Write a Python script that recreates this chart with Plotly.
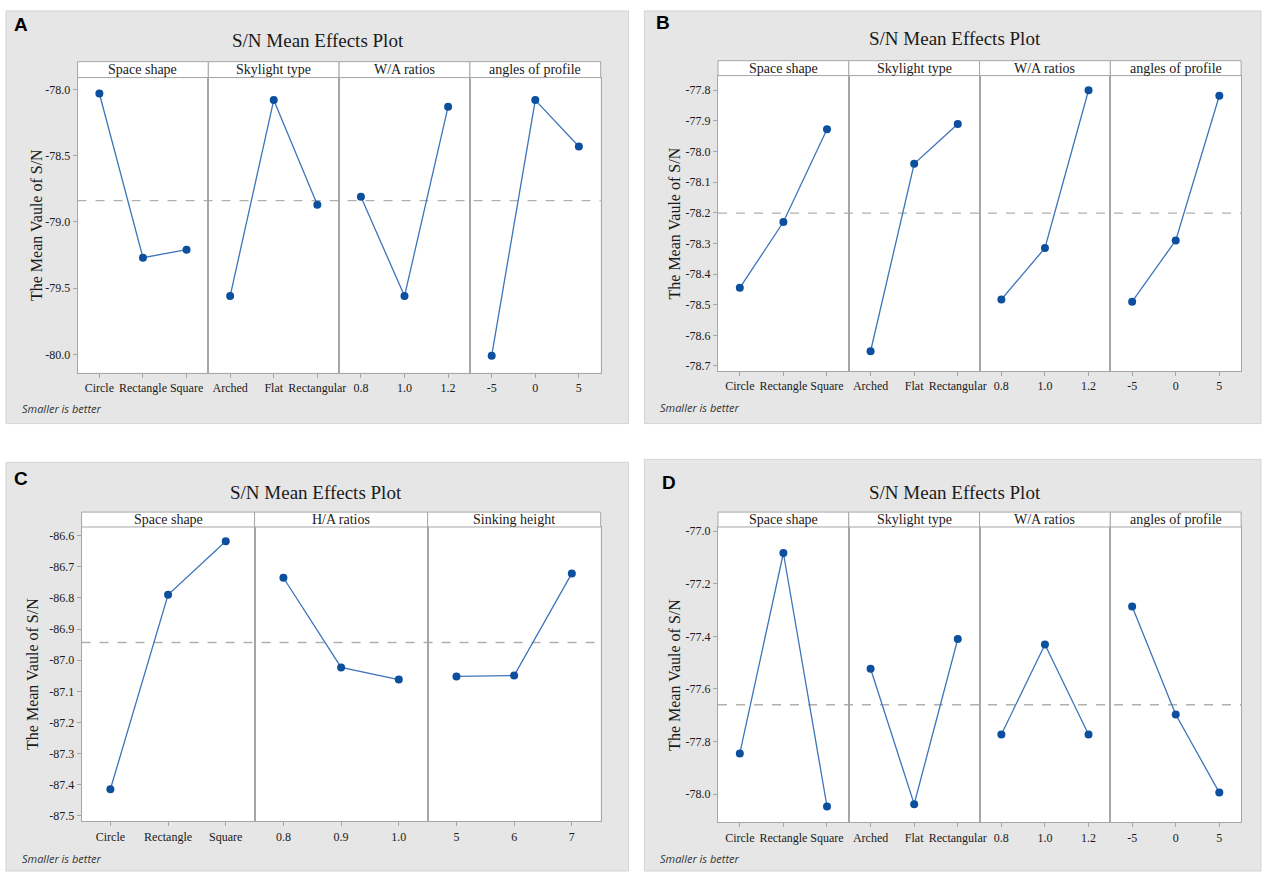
import plotly.graph_objects as go

W, H = 1268, 873

# ---------------- data ----------------
space_shape = ["Circle", "Rectangle", "Square"]
skylight_type = ["Arched", "Flat", "Rectangular"]
wa_ratios = ["0.8", "1.0", "1.2"]
angles_profile = ["-5", "0", "5"]
ha_ratios = ["0.8", "0.9", "1.0"]
sinking_height = ["5", "6", "7"]

factors_4 = ["Space shape", "Skylight type", "W/A ratios", "angles of profile"]
factors_3 = ["Space shape", "H/A ratios", "Sinking height"]

a_values = [[-78.03, -79.27, -79.21], [-79.56, -78.08, -78.87],
            [-78.81, -79.56, -78.13], [-80.01, -78.08, -78.43]]
a_mean = -78.84
a_ticks = [-78.0, -78.5, -79.0, -79.5, -80.0]
a_ticktext = ["-78.0", "-78.5", "-79.0", "-79.5", "-80.0"]

b_values = [[-78.445, -78.23, -77.927], [-78.652, -78.04, -77.91],
            [-78.483, -78.315, -77.80], [-78.49, -78.29, -77.818]]
b_mean = -78.201
b_ticks = [-77.8, -77.9, -78.0, -78.1, -78.2, -78.3, -78.4, -78.5, -78.6, -78.7]
b_ticktext = ["-77.8", "-77.9", "-78.0", "-78.1", "-78.2", "-78.3", "-78.4", "-78.5", "-78.6", "-78.7"]

c_values = [[-87.414, -86.79, -86.618], [-86.735, -87.023, -87.062],
            [-87.052, -87.049, -86.721]]
c_mean = -86.943
c_ticks = [-86.6, -86.7, -86.8, -86.9, -87.0, -87.1, -87.2, -87.3, -87.4, -87.5]
c_ticktext = ["-86.6", "-86.7", "-86.8", "-86.9", "-87.0", "-87.1", "-87.2", "-87.3", "-87.4", "-87.5"]

d_values = [[-77.845, -77.083, -78.047], [-77.523, -78.038, -77.41],
            [-77.773, -77.431, -77.773], [-77.286, -77.697, -77.994]]
d_mean = -77.66
d_ticks = [-77.0, -77.2, -77.4, -77.6, -77.8, -78.0]
d_ticktext = ["-77.0", "-77.2", "-77.4", "-77.6", "-77.8", "-78.0"]

panels = [
    dict(letter="A", factors=factors_4,
         cats=[space_shape, skylight_type, wa_ratios, angles_profile],
         values=a_values, mean=a_mean, ticks=a_ticks, ticktext=a_ticktext,
         yrange=[-80.14, -77.91],
         box=(6, 8, 632, 423), letter_xy=(12, 22), title_xy=(320, 38),
         plot=(78, 604), strip_top=59, plot_top=75, plot_bot=372,
         ytitle_x=36, smaller_xy=(20, 408)),
    dict(letter="B", factors=factors_4,
         cats=[space_shape, skylight_type, wa_ratios, angles_profile],
         values=b_values, mean=b_mean, ticks=b_ticks, ticktext=b_ticktext,
         yrange=[-78.716, -77.752],
         box=(648, 8, 1268, 423), letter_xy=(658, 20), title_xy=(960, 36),
         plot=(722, 1248), strip_top=58, plot_top=73, plot_bot=370,
         ytitle_x=678, smaller_xy=(662, 407)),
    dict(letter="C", factors=factors_3,
         cats=[space_shape, ha_ratios, sinking_height],
         values=c_values, mean=c_mean, ticks=c_ticks, ticktext=c_ticktext,
         yrange=[-87.517, -86.572],
         box=(6, 462, 632, 873), letter_xy=(12, 478), title_xy=(318, 492),
         plot=(82, 604), strip_top=512, plot_top=527, plot_bot=823,
         ytitle_x=32, smaller_xy=(20, 860)),
    dict(letter="D", factors=factors_4,
         cats=[space_shape, skylight_type, wa_ratios, angles_profile],
         values=d_values, mean=d_mean, ticks=d_ticks, ticktext=d_ticktext,
         yrange=[-78.107, -76.984],
         box=(648, 459, 1268, 873), letter_xy=(664, 482), title_xy=(960, 492),
         plot=(722, 1248), strip_top=512, plot_top=527, plot_bot=824,
         ytitle_x=678, smaller_xy=(662, 860)),
]

def fx(x):
    return x / W

def fy(y):
    return 1 - y / H

SERIF = "Liberation Serif"
AXIS_GRAY = "#a6a6a6"
LINE_BLUE = "#3d74ba"
MARK_BLUE = "#0b4f9e"
TEXT = "#1a1a1a"

fig = go.Figure()
layout = dict(
    width=W, height=H, margin=dict(l=0, r=0, t=0, b=0),
    paper_bgcolor="white", plot_bgcolor="white", showlegend=False,
    shapes=[], annotations=[],
)

ax_i = 0
for p in panels:
    x0b, y0b, x1b, y1b = p["box"]
    px0, px1 = p["plot"]
    layout["shapes"].append(dict(type="rect", xref="paper", yref="paper",
                                 x0=fx(x0b), x1=fx(x1b), y0=fy(y1b), y1=fy(y0b),
                                 fillcolor="#e6e6e6", line=dict(color="#d4d4d4", width=1),
                                 layer="below"))
    # white plot area
    layout["shapes"].append(dict(type="rect", xref="paper", yref="paper",
                                 x0=fx(px0), x1=fx(px1), y0=fy(p["plot_bot"]), y1=fy(p["plot_top"]),
                                 fillcolor="white", line=dict(width=0), layer="below"))
    # letter and title
    layout["annotations"].append(dict(text="<b>%s</b>" % p["letter"], xref="paper", yref="paper",
                                      x=fx(p["letter_xy"][0]), y=fy(p["letter_xy"][1]),
                                      xanchor="left", yanchor="middle", showarrow=False,
                                      font=dict(family="Liberation Sans", size=19, color="black")))
    layout["annotations"].append(dict(text="S/N Mean Effects Plot", xref="paper", yref="paper",
                                      x=fx(p["title_xy"][0]), y=fy(p["title_xy"][1]),
                                      xanchor="center", yanchor="middle", showarrow=False,
                                      font=dict(family=SERIF, size=19, color=TEXT)))
    layout["annotations"].append(dict(text="The Mean Vaule of S/N", xref="paper", yref="paper",
                                      x=fx(p["ytitle_x"]), y=fy((p["plot_top"] + p["plot_bot"]) / 2),
                                      xanchor="center", yanchor="middle", showarrow=False, textangle=-90,
                                      font=dict(family=SERIF, size=16, color=TEXT)))
    layout["annotations"].append(dict(text="<i>Smaller is better</i>", xref="paper", yref="paper",
                                      x=fx(p["smaller_xy"][0]), y=fy(p["smaller_xy"][1]),
                                      xanchor="left", yanchor="middle", showarrow=False,
                                      font=dict(family="Open Sans", size=11, color="#333333")))

    n = len(p["factors"])
    fw = (px1 - px0) / n
    first_y = None
    for k in range(n):
        ax_i += 1
        xname = "xaxis" if ax_i == 1 else "xaxis%d" % ax_i
        yname = "yaxis" if ax_i == 1 else "yaxis%d" % ax_i
        xref = "x" if ax_i == 1 else "x%d" % ax_i
        yref = "y" if ax_i == 1 else "y%d" % ax_i
        if first_y is None:
            first_y = yref
        xa0 = px0 + k * fw
        xa1 = px0 + (k + 1) * fw
        layout[xname] = dict(domain=[fx(xa0), fx(xa1)], anchor=yref,
                             type="category", categoryorder="array", categoryarray=p["cats"][k],
                             range=[-0.5, 2.5], showline=True, linecolor=AXIS_GRAY, linewidth=1,
                             mirror=True, ticks="outside", ticklen=4, tickcolor=AXIS_GRAY,
                             showgrid=False, zeroline=False, tickangle=0,
                             tickfont=dict(family=SERIF, size=12, color=TEXT))
        ydict = dict(domain=[fy(p["plot_bot"]), fy(p["plot_top"])], anchor=xref,
                     range=p["yrange"], showline=True, linecolor=AXIS_GRAY, linewidth=1,
                     mirror=True, showgrid=False, zeroline=False,
                     tickmode="array", tickvals=p["ticks"], ticktext=p["ticktext"],
                     tickfont=dict(family=SERIF, size=12, color=TEXT))
        if k == 0:
            ydict.update(ticks="outside", ticklen=4, tickcolor=AXIS_GRAY, showticklabels=True)
        else:
            ydict.update(ticks="", showticklabels=False, matches=first_y)
        layout[yname] = ydict

        fig.add_trace(go.Scatter(x=p["cats"][k], y=p["values"][k], xaxis=xref, yaxis=yref,
                                 mode="lines+markers",
                                 line=dict(color=LINE_BLUE, width=1.3),
                                 marker=dict(color=MARK_BLUE, size=8,
                                             line=dict(color=MARK_BLUE, width=0)),
                                 hoverinfo="x+y"))
        # strip header
        layout["shapes"].append(dict(type="rect", xref="paper", yref="paper",
                                     x0=fx(xa0), x1=fx(xa1), y0=fy(p["plot_top"]), y1=fy(p["strip_top"]),
                                     fillcolor="white", line=dict(color=AXIS_GRAY, width=1)))
        layout["annotations"].append(dict(text=p["factors"][k], xref="paper", yref="paper",
                                          x=fx((xa0 + xa1) / 2), y=fy((p["strip_top"] + p["plot_top"]) / 2),
                                          xanchor="center", yanchor="middle", showarrow=False,
                                          font=dict(family=SERIF, size=14, color=TEXT)))
    # mean dashed line
    layout["shapes"].append(dict(type="line", xref="paper", yref=first_y,
                                 x0=fx(px0), x1=fx(px1), y0=p["mean"], y1=p["mean"],
                                 line=dict(color="#b0b0b0", width=1.3, dash="dash"), layer="below"))

fig.update_layout(**layout)
fig.write_html("out.html")
